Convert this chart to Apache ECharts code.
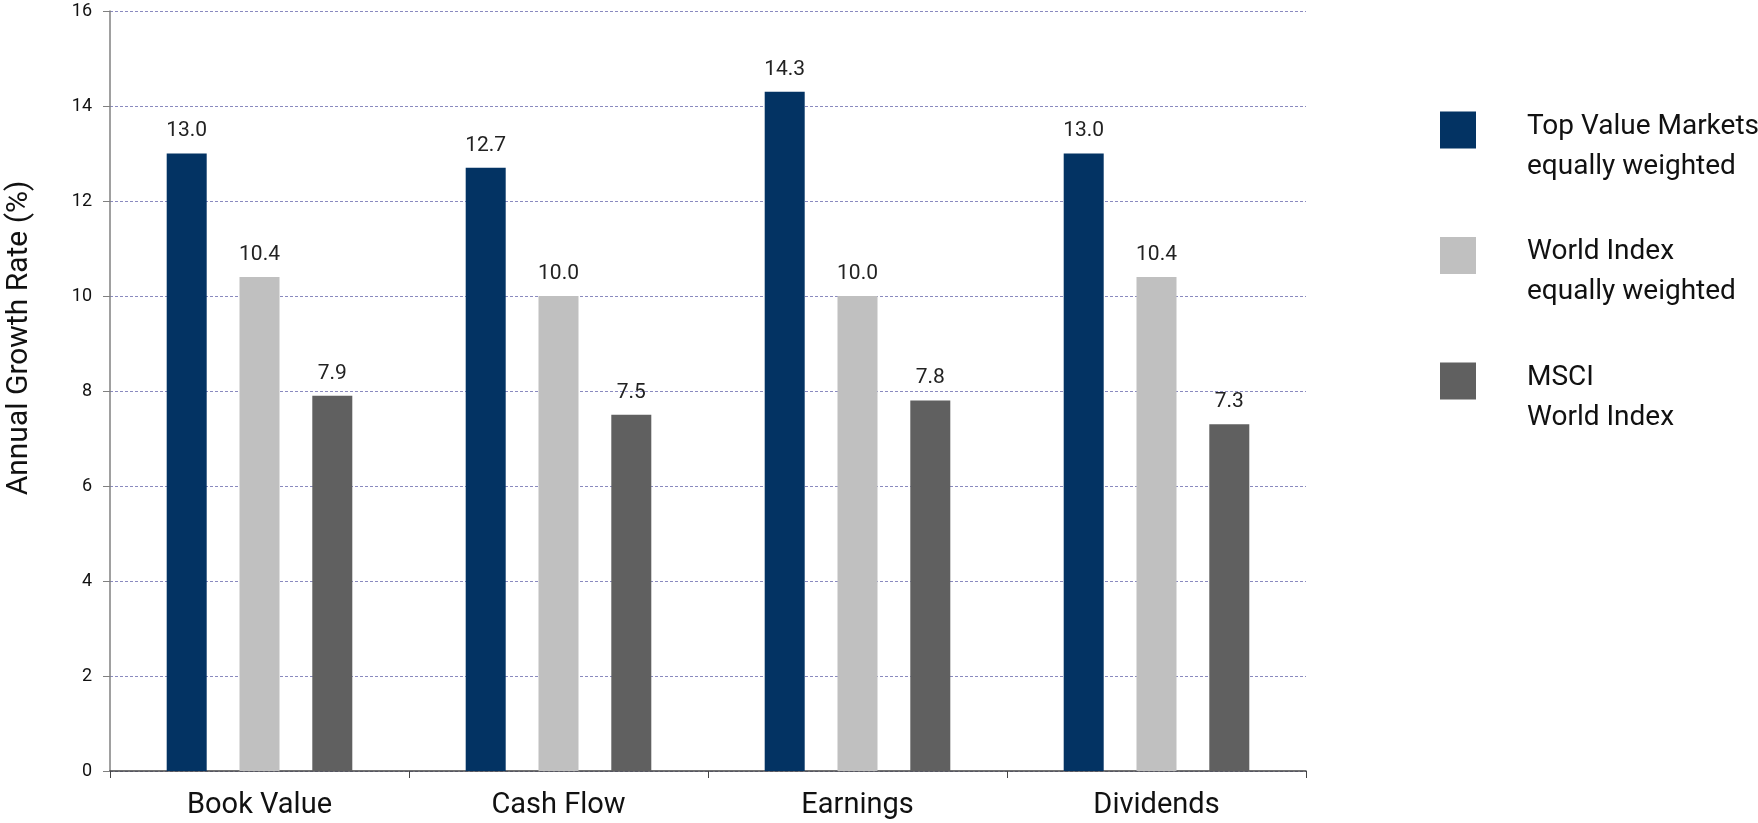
<!DOCTYPE html>
<html>
<head>
<meta charset="utf-8">
<script src="https://cdn.jsdelivr.net/npm/echarts@6/dist/echarts.min.js"></script>
<style>
  html, body { margin: 0; padding: 0; background: #fff; }
  #chart { width: 1758px; height: 823px; }
</style>
</head>
<body>
<div id="chart"></div>
<script>
// categories + series values
const categories = ['Book Value', 'Cash Flow', 'Earnings', 'Dividends']
const topValue = [13.0, 12.7, 14.3, 13.0]
const worldEqual = [10.4, 10.0, 10.0, 10.4]
const msciWorld = [7.9, 7.5, 7.8, 7.3]
const seriesNames = ['Top Value Markets\nequally weighted', 'World Index\nequally weighted', 'MSCI\nWorld Index']
const yTicks = { min: 0, max: 16, interval: 2 }

const FONT = 'Roboto, "Liberation Sans", sans-serif'
const colorList = ['#033363', '#c0c0c0', '#606060']

const chart = echarts.init(document.getElementById('chart'))

const labelStyle = {
  show: true,
  position: 'top',
  distance: 12,
  fontFamily: FONT,
  fontSize: 21,
  color: '#222',
  formatter: (p) => p.value.toFixed(1)
}

const option = {
  animation: false,
  color: colorList,
  textStyle: { fontFamily: FONT },
  grid: {
    left: 110,
    right: 452,
    top: 11,
    bottom: 52,
    outerBoundsMode: 'none',
    containLabel: false
  },
  legend: {
    orient: 'vertical',
    left: 1435,
    top: 80,
    icon: 'rect',
    itemWidth: 36,
    itemHeight: 37,
    itemGap: 30,
    selectedMode: false,
    // spacer line on top pushes the two text lines down next to the square
    formatter: (name) => '{s| }\n' + name.split('\n').map((l) => '{a|' + l + '}').join('\n'),
    textStyle: {
      fontFamily: FONT,
      color: '#111',
      padding: [0, 0, 0, 46],
      rich: {
        s: { fontSize: 10, lineHeight: 33 },
        a: { fontFamily: FONT, fontSize: 28, lineHeight: 40, color: '#111' }
      }
    },
    data: seriesNames
  },
  xAxis: {
    type: 'category',
    data: categories,
    axisLine: { lineStyle: { color: '#444', width: 1.5 } },
    axisTick: { show: true, length: 7, lineStyle: { color: '#444' } },
    axisLabel: { fontFamily: FONT, fontSize: 29, color: '#111', margin: 20 }
  },
  yAxis: {
    type: 'value',
    min: yTicks.min,
    max: yTicks.max,
    interval: yTicks.interval,
    name: 'Annual Growth Rate (%)',
    nameLocation: 'middle',
    nameGap: 76,
    nameTextStyle: {
      fontFamily: FONT,
      fontSize: 30,
      color: '#111',
      padding: [0, 0, 0, 106]
    },
    axisLine: { show: true, lineStyle: { color: '#808080', width: 1.5 } },
    axisTick: { show: true, length: 7, lineStyle: { color: '#808080' } },
    axisLabel: { fontFamily: FONT, fontSize: 18, color: '#111', margin: 18 },
    splitLine: {
      lineStyle: { type: [3, 2], color: '#8a8abf', width: 1 }
    }
  },
  series: [
    { name: seriesNames[0], data: topValue },
    { name: seriesNames[1], data: worldEqual },
    { name: seriesNames[2], data: msciWorld }
  ].map((s) => ({
    name: s.name,
    type: 'bar',
    data: s.data,
    barWidth: 40,
    barGap: '82%',
    label: labelStyle
  }))
}

chart.setOption(option)
</script>
</body>
</html>
